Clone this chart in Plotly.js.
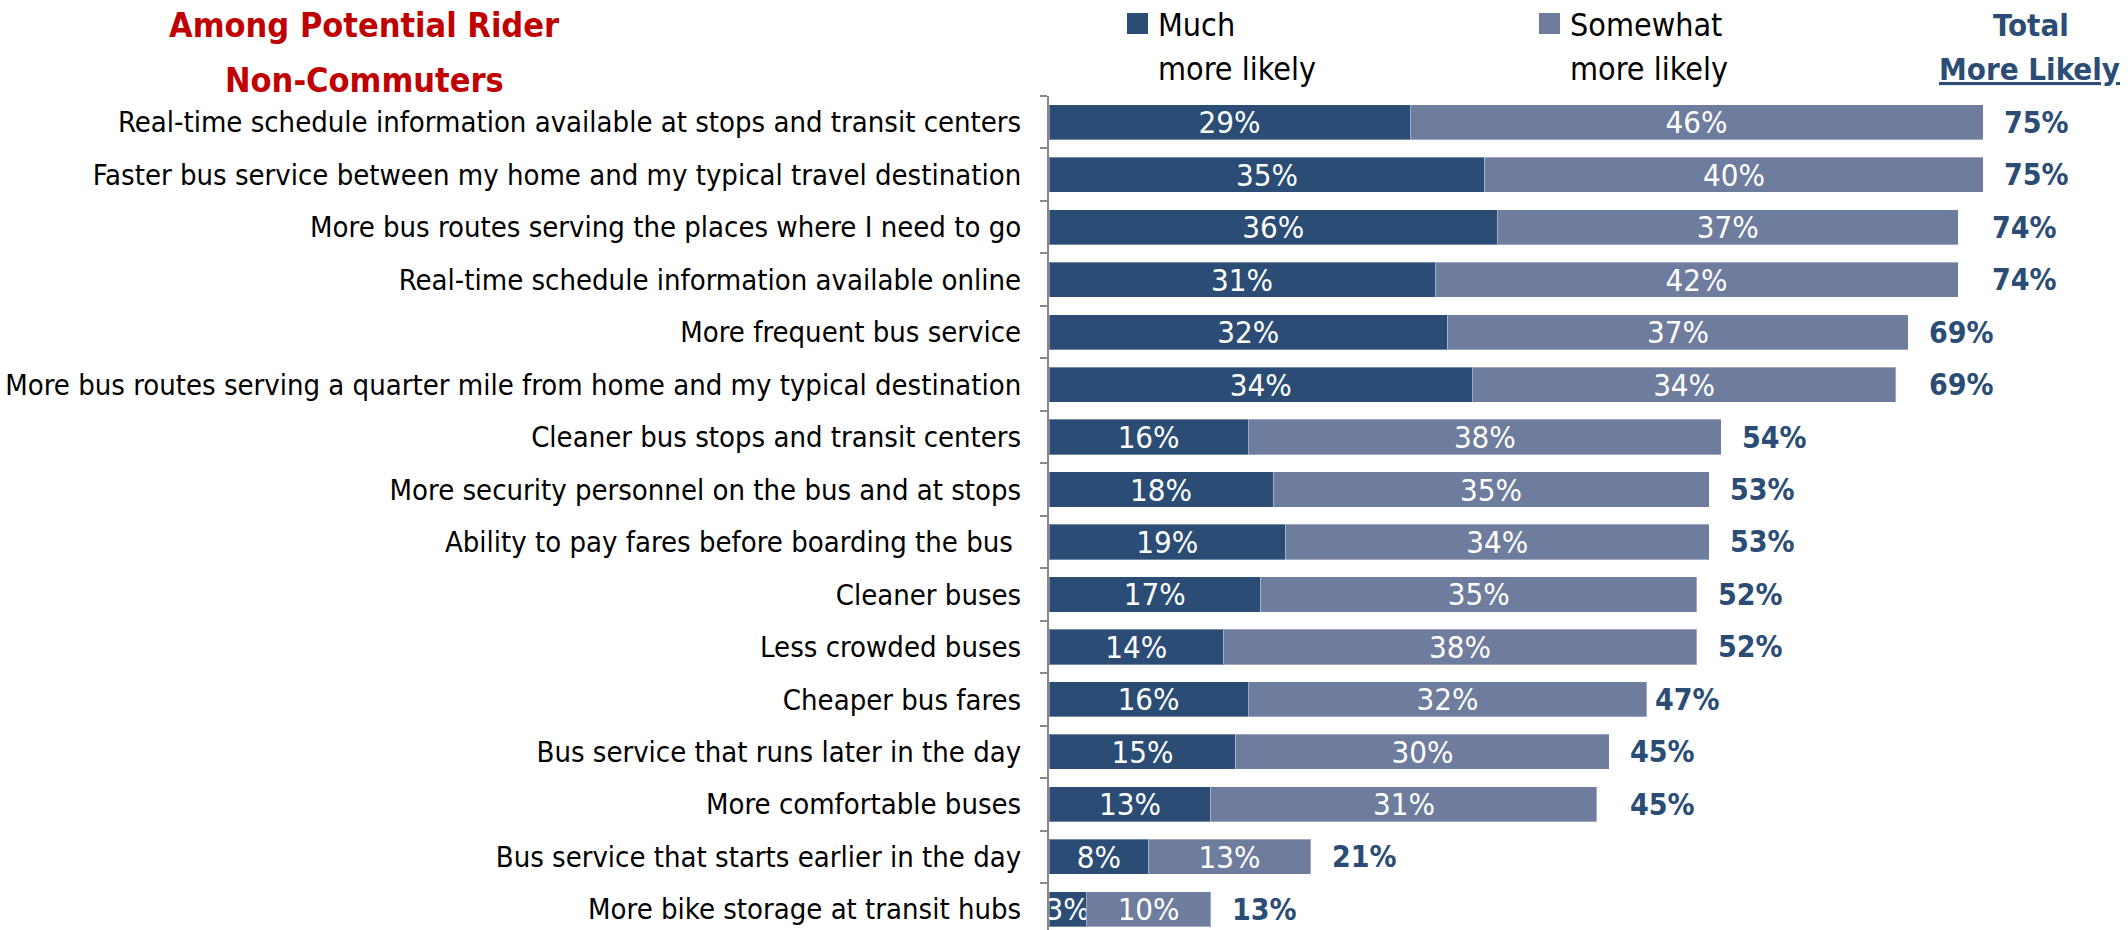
<!DOCTYPE html>
<html><head><meta charset="utf-8">
<script src="https://cdn.plot.ly/plotly-3.0.1.min.js"></script>
<style>html,body{margin:0;padding:0;background:#fff}#chart{width:2128px;height:930px}</style>
</head><body><div id="chart"></div>
<script>
const categories = [
  "Real-time schedule information available at stops and transit centers",
  "Faster bus service between my home and my typical travel destination",
  "More bus routes serving the places where I need to go",
  "Real-time schedule information available online",
  "More frequent bus service",
  "More bus routes serving a quarter mile from home and my typical destination",
  "Cleaner bus stops and transit centers",
  "More security personnel on the bus and at stops",
  "Ability to pay fares before boarding the bus ",
  "Cleaner buses",
  "Less crowded buses",
  "Cheaper bus fares",
  "Bus service that runs later in the day",
  "More comfortable buses",
  "Bus service that starts earlier in the day",
  "More bike storage at transit hubs"
];
const muchValues     = [29, 35, 36, 31, 32, 34, 16, 18, 19, 17, 14, 16, 15, 13, 8, 3];
const somewhatValues = [46, 40, 37, 42, 37, 34, 38, 35, 34, 35, 38, 32, 30, 31, 13, 10];
const totalValues    = [75, 75, 74, 74, 69, 69, 54, 53, 53, 52, 52, 47, 45, 45, 21, 13];
const seriesNames = ["Much<br>more likely", "Somewhat<br>more likely"];
const totalHeader = ["Total", "More Likely"];
const titleLines = ["Among Potential Rider", "Non-Commuters"];

const FONT = "'DejaVu Sans Condensed', 'Liberation Sans Narrow', 'Liberation Sans', sans-serif";
const DARK = "#2B4D75", LIGHT = "#6E7C9E", NAVY = "#2B4D75";
const W = 2128, H = 930, ML = 1049, MR = 8, MT = 96, MB = 0;
const PW = W - ML - MR, PH = H - MT - MB;
const px = x => (x - ML) / PW;
const py = y => (H - MB - y) / PH;

function barTrace(vals, color, name) {
  return {
    type: "bar", orientation: "h", name: name,
    y: categories, x: vals,
    text: vals.map(v => v + "%"),
    textposition: "inside", insidetextanchor: "middle", textangle: 0,
    constraintext: "none", cliponaxis: true,
    textfont: {color: "#ffffff", size: 31, family: FONT},
    marker: {color: color, line: {color: "rgba(255,255,255,0.35)", width: 1}},
    hoverinfo: "skip"
  };
}
const data = [barTrace(muchValues, DARK, seriesNames[0]), barTrace(somewhatValues, LIGHT, seriesNames[1])];

const annotations = [];
const shapes = [];
// chart title (two lines, Excel-like spacing)
titleLines.forEach((ln, j) => {
  annotations.push({xref: "paper", yref: "paper", x: px(364), y: py(25 + j * 55), text: "<b>" + ln + "</b>",
    showarrow: false, xanchor: "center", yanchor: "middle", font: {size: 34, color: "#C00000", family: FONT}});
});
// totals
categories.forEach((c, i) => {
  annotations.push({x: totalValues[i], y: c, xref: "x", yref: "y", text: "<b>" + totalValues[i] + "%</b>",
    showarrow: false, xanchor: "left", xshift: 19, font: {size: 30, color: NAVY, family: FONT}});
});
// legend
const legendPos = [{sx: 1127, tx: 1156, color: DARK}, {sx: 1539, tx: 1568, color: LIGHT}];
seriesNames.forEach((n, k) => {
  const p = legendPos[k];
  shapes.push({type: "rect", xref: "paper", yref: "paper", x0: px(p.sx), x1: px(p.sx + 21), y0: py(34), y1: py(13),
    fillcolor: p.color, line: {width: 0}});
  n.split("<br>").forEach((ln, j) => {
    annotations.push({xref: "paper", yref: "paper", x: px(p.tx), y: py(25 + j * 44), text: ln, showarrow: false,
      xanchor: "left", yanchor: "middle", font: {size: 32, color: "#000", family: FONT}});
  });
});
// total header
annotations.push({xref: "paper", yref: "paper", x: px(2031), y: py(25), text: "<b>" + totalHeader[0] + "</b>", showarrow: false,
  xanchor: "center", yanchor: "middle", font: {size: 31, color: NAVY, family: FONT}});
annotations.push({xref: "paper", yref: "paper", x: px(2029), y: py(69), text: "<b><u>" + totalHeader[1] + "</u></b>", showarrow: false,
  xanchor: "center", yanchor: "middle", font: {size: 31, color: NAVY, family: FONT}});

const layout = {
  width: W, height: H,
  paper_bgcolor: "#fff", plot_bgcolor: "#fff",
  margin: {l: ML, r: MR, t: MT, b: MB, pad: 0},
  barmode: "stack", bargap: 0.33, showlegend: false,
  xaxis: {range: [0, 86], visible: false, fixedrange: true},
  yaxis: {type: "category", categoryorder: "array", categoryarray: categories,
    range: [15.395, -0.5], automargin: false,
    ticks: "outside", tickson: "boundaries", ticklen: 7, tickcolor: "#888", tickwidth: 2,
    showline: true, linecolor: "#888", linewidth: 2, showgrid: false, zeroline: false,
    ticklabelstandoff: 20,
    tickfont: {size: 29, color: "#000", family: FONT}},
  annotations: annotations, shapes: shapes,
  font: {family: FONT}
};
Plotly.newPlot("chart", data, layout, {displayModeBar: false, staticPlot: true});
</script></body></html>
